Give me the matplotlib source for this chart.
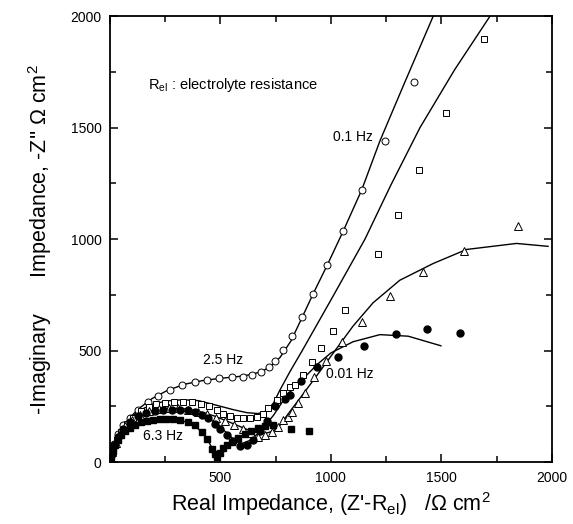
import matplotlib
matplotlib.use('Agg')
from matplotlib import pyplot as plt
from matplotlib.ticker import MultipleLocator
import numpy as np

plt.rcParams['font.family'] = ['Liberation Sans', 'DejaVu Sans']
plt.rcParams['mathtext.default'] = 'regular'

# open circles (2.5 Hz / 0.1 Hz series)
circ_x = [0, 8, 20, 38, 60, 90, 128, 173, 219, 272, 325, 385, 440, 495, 550, 600, 645,
          685, 718, 748, 784, 822, 871, 920, 983, 1056, 1143, 1246, 1374]
circ_y = [0, 35, 80, 125, 165, 200, 233, 268, 296, 325, 345, 360, 370, 376, 380, 384, 392,
          405, 425, 455, 505, 565, 650, 756, 883, 1037, 1220, 1441, 1705]
circ_fit_x = [0, 15, 40, 80, 130, 190, 260, 340, 420, 500, 580, 640, 690, 730, 770, 820,
              870, 920, 983, 1056, 1139, 1222, 1335, 1463]
circ_fit_y = [0, 60, 125, 190, 240, 285, 322, 350, 366, 376, 384, 393, 408, 432, 470, 545,
              650, 756, 883, 1037, 1220, 1441, 1705, 2000]

# open squares
sq_x = [0, 5, 15, 30, 50, 75, 105, 140, 175, 210, 250, 290, 330, 370, 410, 450, 483, 513,
        543, 573, 603, 634, 664, 694, 716, 754, 784, 815, 837, 872, 913, 956, 1008, 1063,
        1214, 1302, 1400, 1520, 1694]
sq_y = [0, 30, 65, 100, 135, 170, 200, 228, 248, 260, 266, 270, 270, 268, 262, 250, 233, 218,
        208, 200, 196, 196, 203, 218, 241, 280, 308, 335, 348, 393, 450, 513, 589, 682,
        933, 1108, 1309, 1566, 1897]
sq_fit_x = [0, 15, 40, 80, 130, 190, 260, 330, 400, 483, 560, 620, 670, 710, 740, 769, 814,
            870, 930, 1010, 1154, 1270, 1403, 1560, 1720]
sq_fit_y = [0, 70, 130, 185, 230, 260, 275, 280, 276, 255, 235, 222, 218, 230, 265, 323, 405,
            500, 605, 745, 1000, 1240, 1500, 1760, 2000]

# open triangles (0.01 Hz series)
tri_x = [0, 10, 25, 45, 70, 100, 135, 175, 220, 265, 310, 355, 400, 440, 480, 520, 560, 600,
         640, 671, 701, 732, 762, 784, 807, 822, 852, 882, 925, 976, 1051, 1142, 1267, 1418,
         1603, 1848]
tri_y = [0, 45, 85, 125, 160, 190, 213, 230, 240, 243, 242, 236, 226, 214, 200, 185, 168, 150,
         130, 114, 121, 136, 158, 188, 203, 226, 266, 311, 380, 453, 537, 629, 746, 853,
         947, 1058]
tri_fit_x = [0, 20, 50, 90, 140, 200, 260, 330, 400, 470, 540, 600, 650, 700, 740, 769, 815,
             870, 930, 1000, 1100, 1191, 1312, 1463, 1614, 1840, 1983]
tri_fit_y = [0, 75, 135, 180, 215, 235, 242, 240, 228, 208, 180, 155, 135, 128, 140, 165, 228,
             300, 380, 475, 610, 715, 816, 891, 954, 981, 968]

# filled circles
fc_x = [0, 8, 20, 38, 60, 90, 125, 165, 205, 241, 279, 317, 354, 385, 415, 445, 475, 500,
        528, 558, 588, 618, 648, 679, 709, 747, 790, 814, 863, 938, 1032, 1148, 1294, 1433, 1584]
fc_y = [0, 35, 75, 115, 150, 180, 205, 220, 228, 232, 236, 236, 232, 223, 211, 196, 173, 150,
        120, 95, 72, 78, 100, 140, 185, 250, 285, 300, 362, 427, 472, 519, 577, 598, 580]
fc_fit_x = [0, 20, 50, 90, 140, 200, 260, 320, 380, 430, 480, 530, 570, 600, 640, 690, 740,
            800, 870, 940, 1000, 1100, 1222, 1350, 1498]
fc_fit_y = [0, 70, 130, 175, 205, 222, 230, 230, 222, 205, 175, 130, 92, 85, 100, 150, 210,
            300, 370, 440, 490, 540, 572, 565, 522]

# filled squares (6.3 Hz series)
fs_x = [0, 5, 12, 22, 35, 50, 68, 90, 115, 140, 168, 196, 225, 255, 285, 317, 354, 385, 415,
        437, 460, 475, 483, 498, 513, 530, 550, 580, 610, 640, 670, 700, 740, 819, 899]
fs_y = [0, 25, 50, 75, 100, 120, 138, 155, 168, 178, 186, 190, 193, 194, 192, 188, 181, 165,
        135, 105, 60, 38, 24, 40, 62, 78, 92, 110, 125, 140, 152, 160, 165, 149, 142]
fs_fit_x = [0, 20, 50, 90, 140, 200, 260, 320, 380, 420, 450, 483, 510, 550, 600, 650, 700, 750]
fs_fit_y = [0, 75, 125, 160, 180, 190, 193, 188, 168, 130, 85, 28, 55, 90, 118, 140, 158, 170]

fig = plt.figure(figsize=(5.73, 5.24), dpi=100)
ax = fig.add_axes([0.192, 0.118, 0.771, 0.851])

lw = 1.0
ax.plot(circ_fit_x, circ_fit_y, color='black', lw=lw)
ax.plot(sq_fit_x, sq_fit_y, color='black', lw=lw)
ax.plot(tri_fit_x, tri_fit_y, color='black', lw=lw)
ax.plot(fc_fit_x, fc_fit_y, color='black', lw=lw)
ax.plot(fs_fit_x, fs_fit_y, color='black', lw=lw)

ax.plot(circ_x, circ_y, 'o', ms=5, mfc='white', mec='black', mew=0.7, ls='none')
ax.plot(sq_x, sq_y, 's', ms=4.5, mfc='white', mec='black', mew=0.7, ls='none')
ax.plot(tri_x, tri_y, '^', ms=5.2, mfc='white', mec='black', mew=0.7, ls='none')
ax.plot(fc_x, fc_y, 'o', ms=5, mfc='black', mec='black', ls='none')
ax.plot(fs_x, fs_y, 's', ms=4.3, mfc='black', mec='black', ls='none')

ax.text(172, 1690, 'R$_{el}$ : electrolyte resistance', fontsize=10.5, va='center')
ax.text(1009, 1457, '0.1 Hz', fontsize=10, va='center')
ax.text(421, 457, '2.5 Hz', fontsize=10, va='center')
ax.text(149, 117, '6.3 Hz', fontsize=10, va='center')
ax.text(977, 395, '0.01 Hz', fontsize=10, va='center')

ax.set_xlim(0, 2000)
ax.set_ylim(0, 2000)
ax.set_xticks([0, 500, 1000, 1500, 2000])
ax.set_xticklabels(['', '500', '1000', '1500', '2000'])
ax.set_yticks([0, 500, 1000, 1500, 2000])
ax.xaxis.set_minor_locator(MultipleLocator(250))
ax.yaxis.set_minor_locator(MultipleLocator(250))
ax.tick_params(which='both', direction='in', top=True, right=True, width=1.1, labelsize=10)
ax.tick_params(which='major', length=6, pad=6)
ax.tick_params(which='minor', length=4)
for s in ax.spines.values():
    s.set_linewidth(1.3)

ax.set_xlabel("Real Impedance, (Z'-R$_{el}$)   /\u03a9 cm$^2$", fontsize=15.5, labelpad=4)
ax.set_ylabel("-Imaginary      Impedance, -Z'' \u03a9 cm$^2$", fontsize=15.5, labelpad=12)

plt.savefig('out.png', dpi=100)
plt.close()
